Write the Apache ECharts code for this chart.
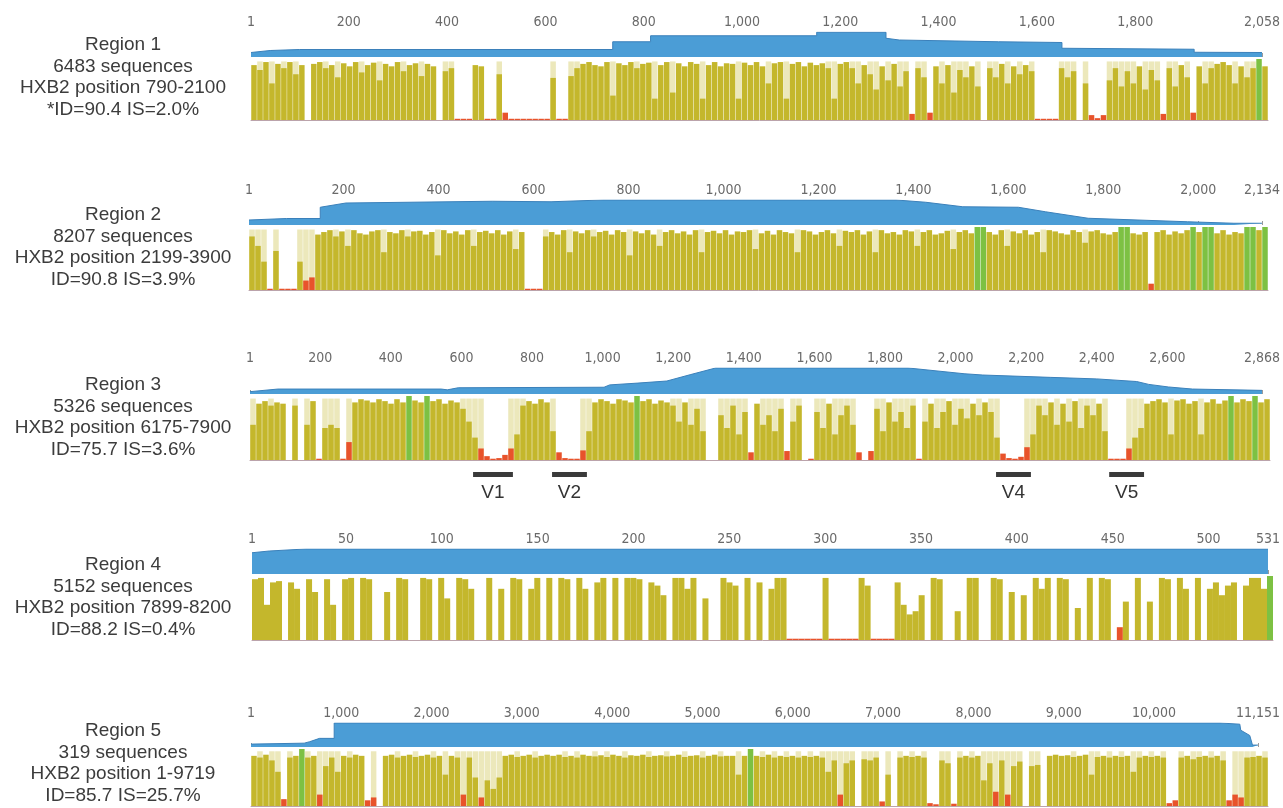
<!DOCTYPE html>
<html><head><meta charset="utf-8">
<script src="https://cdn.jsdelivr.net/npm/echarts@6/dist/echarts.min.js"></script>
<style>html,body{margin:0;padding:0;background:#fff}#c{width:1283px;height:808px}</style>
</head><body><div id="c"></div>
<script>
// ---------------- DATA ----------------
const regionText = [
  ['Region 1','6483 sequences','HXB2 position 790-2100','*ID=90.4 IS=2.0%'],
  ['Region 2','8207 sequences','HXB2 position 2199-3900','ID=90.8 IS=3.9%'],
  ['Region 3','5326 sequences','HXB2 position 6175-7900','ID=75.7 IS=3.6%'],
  ['Region 4','5152 sequences','HXB2 position 7899-8200','ID=88.2 IS=0.4%'],
  ['Region 5','319 sequences','HXB2 position 1-9719','ID=85.7 IS=25.7%']
];
const lengths = [2058, 2134, 2868, 531, 11151];
const ticks1 = [1,200,400,600,800,1000,1200,1400,1600,1800,2058];
const ticks2 = [1,200,400,600,800,1000,1200,1400,1600,1800,2000,2134];
const ticks3 = [1,200,400,600,800,1000,1200,1400,1600,1800,2000,2200,2400,2600,2868];
const ticks4 = [1,50,100,150,200,250,300,350,400,450,500,531];
const ticks5 = [1,1000,2000,3000,4000,5000,6000,7000,8000,9000,10000,11151];

// coverage (percent of max depth) : [alignment position, coverage]
const cov1 = [[1,18],[40,26],[100,30],[737,30],[737,61],[814,61],[814,85],[1152,85],[1152,99],[1293,99],[1293,75],[1320,68],[1522,61],[1651,58],[1651,35],[1920,31],[1920,19],[2058,18]];
const cov2 = [[1,20],[80,26],[151,26],[151,71],[205,88],[513,95],[637,93],[746,100],[1364,100],[1426,91],[1504,73],[1621,71],[1678,53],[1768,27],[1977,13],[2075,7],[2134,7]];
const cov3 = [[1,9],[80,19],[543,19],[560,16],[591,24],[1004,26],[1020,35],[1100,42],[1182,50],[1250,75],[1320,100],[1866,100],[2024,78],[2077,73],[2268,64],[2400,58],[2513,48],[2547,37],[2603,27],[2671,19],[2868,14]];
const cov4 = [[1,85],[10,92],[29,100],[531,100]];
const cov5 = [[1,12],[590,16],[650,22],[760,36],[922,36],[922,100],[10731,100],[10950,95],[10960,70],[11060,48],[11090,8],[11151,8]];

// identity per alignment bin (percent); 0 = gap column
const id1 = [90,82,95,60,92,85,95,75,90,0, 92,95,85,90,70,93,88,95,78,90, 94,65,92,88,95,80,90,93,72,92,
  88,0,80,85,2,2,2,90,88,2, 2,75,12,2,2,2,2,2,2,2, 69,2,2,72,85,92,95,90,88,95,
  40,93,90,95,85,92,94,35,90,95, 45,93,88,95,92,35,90,95,88,93, 92,35,94,90,95,88,60,93,95,35,
  92,95,88,94,90,93,85,35,92,95, 85,60,90,75,50,88,65,92,55,80, 10,85,70,12,88,60,90,45,82,70,
  88,55,0,85,70,92,60,88,75,90, 80,2,2,2,2,85,70,80,0,60, 8,3,8,65,85,55,80,60,88,50,
  82,65,10,85,55,90,70,12,88,60, 85,92,95,90,60,88,70,85,100,88];
const id2 = [85,70,45,2,62,2,2,2,45,15, 20,88,92,95,85,93,70,95,90,88, 93,95,60,92,90,95,85,93,94,88,
  92,55,95,90,93,88,95,70,92,94, 90,95,88,93,65,92,2,2,2,85, 92,88,95,60,93,90,95,85,92,94,
  88,95,92,55,93,90,95,88,70,92, 95,90,93,88,95,60,92,94,90,95, 88,93,92,95,65,90,94,88,95,92,
  90,60,95,93,88,92,95,90,70,94, 92,95,88,93,60,95,90,92,88,95, 93,70,92,95,88,90,94,65,92,95,
  90,100,100,92,88,95,70,93,90,95, 88,92,60,95,93,90,88,95,92,75, 93,95,90,88,92,100,100,90,88,92,
  10,92,95,88,93,90,95,100,92,100, 100,90,95,88,92,90,100,100,95,100];
const id3 = [55,88,92,85,90,88,0,85,0,55, 92,2,50,55,50,2,28,90,95,93, 90,95,92,88,95,90,100,93,90,100,
  92,95,88,93,90,80,60,35,18,6, 2,3,8,18,40,85,92,88,95,90, 45,12,3,2,2,15,45,90,95,92,
  88,95,93,90,100,92,95,88,93,90, 85,60,90,55,80,45,0,0,70,50, 85,40,75,12,88,55,70,45,80,14,
  60,85,0,2,75,50,88,40,70,85, 55,12,0,14,80,45,90,60,75,50, 85,2,60,88,50,75,92,55,80,65,
  88,70,90,75,35,10,3,2,5,20, 40,85,70,90,55,88,60,92,50,85, 70,88,45,2,2,2,18,35,50,88,
  92,95,90,40,93,95,88,92,40,90, 95,88,93,100,90,95,92,100,90,95];
const id4 = [95,97,55,90,92,0,90,80,0,95, 75,0,95,55,0,95,97,0,97,95, 0,0,75,0,97,95,0,0,97,95,
  0,97,65,0,97,95,80,0,0,97, 0,80,0,97,95,0,80,97,0,97, 0,97,95,0,97,80,0,90,97,0,
  97,0,97,97,95,0,90,85,70,0, 97,97,80,97,0,65,0,0,97,90, 85,0,97,0,90,0,80,97,97,2,
  2,2,2,2,2,97,2,2,2,2, 2,97,85,2,2,2,2,90,55,40, 45,70,0,97,95,0,0,45,0,97,
  97,0,0,97,95,0,75,0,70,0, 97,80,97,0,97,95,0,50,0,97, 0,97,95,0,20,60,0,97,0,60,
  0,97,95,0,97,80,0,97,0,80, 90,70,85,90,0,85,97,97,80,100];
const id5 = [88,85,90,80,60,12,85,88,100,85, 88,20,70,85,60,88,85,90,88,10, 15,0,88,90,85,88,90,86,88,90,
  85,88,55,88,85,20,85,50,15,45, 30,50,88,90,86,88,90,85,88,90, 88,90,86,88,85,90,88,87,89,86,
  90,88,85,89,88,90,86,88,89,87, 88,90,86,88,89,85,88,90,87,88, 88,55,88,100,88,86,90,85,88,86,
  88,85,88,86,88,85,60,80,20,75, 80,0,82,80,85,8,55,0,85,88, 86,88,85,5,3,80,75,4,85,88,
  85,88,45,75,25,80,20,70,78,0, 70,72,0,88,90,88,89,86,88,90, 55,86,88,85,88,86,88,60,85,88,
  86,88,85,5,10,85,88,82,86,88, 85,88,80,10,20,15,85,86,88,85];

// variable loops on region 3: [start, end, name]
const vRegions = [[628,740,'V1'],[850,948,'V2'],[2098,2196,'V4'],[2416,2514,'V5']];

// ---------------- LAYOUT / STYLE ----------------
const panels = [
  {left:251, width:1017, covTop:32,  covH:25, barTop:59,  barH:61, ticks:ticks1, cov:cov1, ids:id1, pale:true,  gap:'8%'},
  {left:249, width:1019, covTop:200, covH:25, barTop:227, barH:63, ticks:ticks2, cov:cov2, ids:id2, pale:true,  gap:'8%'},
  {left:250, width:1020, covTop:368, covH:26, barTop:396, barH:64, ticks:ticks3, cov:cov3, ids:id3, pale:true,  gap:'8%'},
  {left:252, width:1021, covTop:549, covH:25, barTop:576, barH:64, ticks:ticks4, cov:cov4, ids:id4, pale:false, gap:'0%'},
  {left:251, width:1017, covTop:723, covH:24, barTop:749, barH:57, ticks:ticks5, cov:cov5, ids:id5, pale:true,  gap:'8%'}
];
const OLIVE='#c4b72c', PALE='#ece8bb', RED='#e8532b', GREEN='#7dc143', BLUE='#4b9dd6', BLUE_EDGE='#3b80ba';
const TICK_FONT = '"Liberation Sans Narrow","DejaVu Sans Condensed","Liberation Sans",sans-serif';
const TEXT_FONT = '"Liberation Sans",Arial,Helvetica,sans-serif';
function idColor(v){ return v >= 100 ? GREEN : (v >= 30 ? OLIVE : RED); }

const grid=[], xAxis=[], yAxis=[], series=[], graphic=[];
panels.forEach((p,k)=>{
  const N = lengths[k];
  grid.push({left:p.left, width:p.width, top:p.covTop, height:p.covH});
  grid.push({left:p.left, width:p.width, top:p.barTop, height:p.barH});
  xAxis.push({type:'value', gridIndex:2*k, min:1, max:N, position:'top',
    axisLine:{show:false}, splitLine:{show:false},
    axisTick:{show:true, customValues:p.ticks, length:4, lineStyle:{color:'#9a9a9a'}},
    axisLabel:{customValues:p.ticks, margin:3, fontSize:14, color:'#6a6a6a', fontFamily:TICK_FONT,
      formatter:v=>Number(v).toLocaleString('en-US')}});
  xAxis.push({type:'category', gridIndex:2*k+1, data:p.ids.map((_,i)=>i), boundaryGap:true,
    axisLine:{show:true, lineStyle:{color:'#bba3ab', width:1}}, axisTick:{show:false}, axisLabel:{show:false}});
  yAxis.push({type:'value', gridIndex:2*k, min:0, max:100, show:false});
  yAxis.push({type:'value', gridIndex:2*k+1, min:0, max:100, show:false});
  series.push({type:'line', xAxisIndex:2*k, yAxisIndex:2*k, data:p.cov, symbol:'none', silent:true,
    lineStyle:{color:BLUE_EDGE, width:1}, areaStyle:{color:BLUE, opacity:1}});
  series.push({type:'bar', xAxisIndex:2*k+1, yAxisIndex:2*k+1, silent:true, barGap:'-100%', barCategoryGap:p.gap,
    data:p.ids.map(v => (p.pale && v >= 15 && v < 88) ? 96 : '-'), itemStyle:{color:PALE}});
  series.push({type:'bar', xAxisIndex:2*k+1, yAxisIndex:2*k+1, silent:true, barGap:'-100%', barCategoryGap:p.gap,
    data:p.ids.map(v => v > 0 ? {value:v, itemStyle:{color:idColor(v)}} : '-')});
  const bottom = p.barTop + p.barH;
  [75,53,32,10].forEach((d,j)=>{
    graphic.push({type:'text', x:123, y:bottom-d, silent:true,
      style:{text:regionText[k][j], align:'center', verticalAlign:'middle', textAlign:'center', textVerticalAlign:'middle',
        font:'19px '+TEXT_FONT, fill:'#3c3c3c'}});
  });
});

// V-loop marker strip under region 3
const p3 = panels[2];
grid.push({left:p3.left, width:p3.width, top:472, height:5});
xAxis.push({type:'value', gridIndex:10, min:1, max:lengths[2], show:false});
yAxis.push({type:'value', gridIndex:10, min:0, max:1, show:false});
series.push({type:'custom', xAxisIndex:10, yAxisIndex:10, silent:true,
  data:vRegions.map(r=>[r[0],r[1]]), encode:{x:[0,1]},
  renderItem:(params, api)=>{
    const s = api.coord([api.value(0),1]);
    const e = api.coord([api.value(1),0]);
    return {type:'group', children:[
      {type:'rect', shape:{x:s[0], y:s[1], width:e[0]-s[0], height:e[1]-s[1]}, style:{fill:'#3a3a3a'}},
      {type:'text', style:{text:vRegions[params.dataIndex][2], x:(s[0]+e[0])/2, y:e[1]+6,
        align:'center', verticalAlign:'top', textAlign:'center', textVerticalAlign:'top',
        font:'19px '+TEXT_FONT, fill:'#333'}}
    ]};
  }});

const chart = echarts.init(document.getElementById('c'), null, {renderer:'canvas'});
chart.setOption({animation:false, backgroundColor:'#fff', grid, xAxis, yAxis, series, graphic});
</script>
</body></html>
